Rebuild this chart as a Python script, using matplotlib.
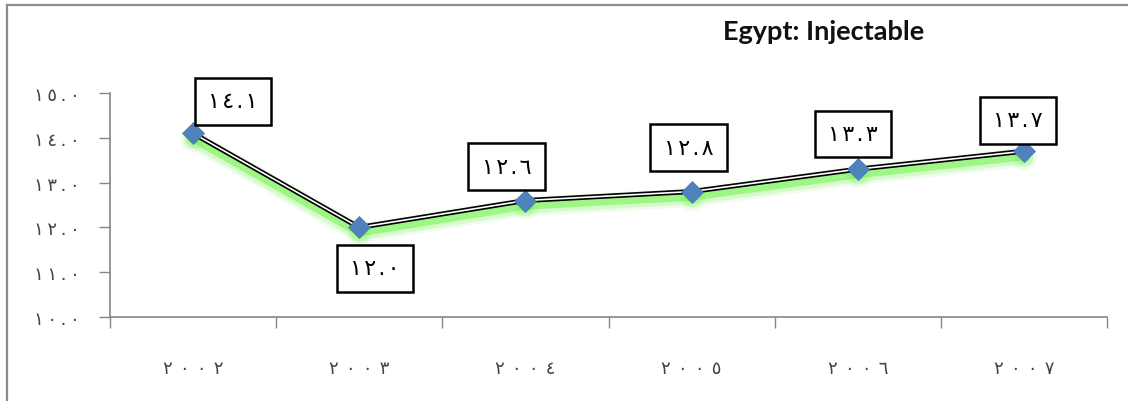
import matplotlib
matplotlib.use('Agg')
import matplotlib.pyplot as plt
import matplotlib.transforms as mtrans
from matplotlib.lines import Line2D

years = ['2002', '2003', '2004', '2005', '2006', '2007']
values = [14.1, 12.0, 12.6, 12.8, 13.3, 13.7]
yticks = [10, 11, 12, 13, 14, 15]
title = 'Egypt: Injectable'

# label box offsets (pixels) from each point
label_dx = [40, 16, -19, -3, -5, -6]
label_dy = [32, -41, 34, 44, 35, 31]

AR = str.maketrans('0123456789', '٠١٢٣٤٥٦٧٨٩')

def ar(s, gap='\u2009'):
    # arabic-indic digits, loosely spaced like the original
    return gap.join(s.translate(AR))

plt.rcParams['font.family'] = ['DejaVu Sans']

W, H = 1128, 402
fig = plt.figure(figsize=(W / 100, H / 100), dpi=100)
ax = fig.add_axes([110 / W, 1 - 318 / H, (1107 - 110) / W, (318 - 94) / H])

x = list(range(len(years)))
axis_col = '#868686'

# soft green glow under the line
for dy, lw, a in [(-6, 14, 0.08), (-6, 10, 0.16), (-5, 6, 0.4)]:
    tr = mtrans.offset_copy(ax.transData, fig=fig, x=0, y=dy, units='dots')
    ax.plot(x, values, color='#4cf01e', lw=lw, alpha=a, transform=tr,
            solid_capstyle='round', solid_joinstyle='round', zorder=2)
    ax.plot(x, values, ls='none', marker='o', ms=lw * 1.3, color='#4cf01e',
            alpha=a, transform=tr, mec='none', zorder=2)

# double line: black outline, white core
ax.plot(x, values, color='black', lw=3.6, solid_joinstyle='miter', zorder=3)
ax.plot(x, values, color='white', lw=1.2, solid_joinstyle='miter', zorder=4)
ax.plot(x, values, ls='none', marker='D', ms=11, color='#4f81bd',
        mec='#4a7ab5', mew=0.5, zorder=5)

for xi, v, dx, dy in zip(x, values, label_dx, label_dy):
    ax.annotate(ar(f'{v:.1f}', '\u200a'), (xi, v), xytext=(dx, dy), textcoords='offset pixels',
                ha='center', va='center', fontsize=16, color='black', zorder=6,
                bbox=dict(boxstyle='square,pad=0.6', fc='white', ec='black', lw=1.8))

ax.set_xlim(-0.5, len(years) - 0.5)
ax.set_ylim(10, 15)

ax.set_xticks(x)
ax.set_xticklabels([ar(y, '\u2009\u2009') for y in years], fontsize=13, color='#444444')
ax.set_xticks([i - 0.5 for i in range(len(years) + 1)], minor=True)
ax.tick_params(axis='x', which='major', length=0, pad=30)
ax.tick_params(axis='x', which='minor', length=8, width=1, color=axis_col, direction='out')

ax.set_yticks(yticks)
ax.set_yticklabels([ar(f'{t:.1f}') for t in yticks], fontsize=13, color='#444444')
ax.tick_params(axis='y', length=8, width=1, color=axis_col, direction='out', pad=14)

for s in ['top', 'right']:
    ax.spines[s].set_visible(False)
for s in ['left', 'bottom']:
    ax.spines[s].set_color(axis_col)
    ax.spines[s].set_linewidth(1.2)

fig.text(824 / W, 1 - 32 / H, title, ha='center', va='center', fontsize=19.5,
         fontweight='bold', family=['Lato', 'DejaVu Sans'], color='#111111')

# outer frame (top and left edges)
fig.add_artist(Line2D([7 / W, 1], [1 - 5.5 / H, 1 - 5.5 / H], transform=fig.transFigure,
                      color='#8c8c8c', lw=1.6))
fig.add_artist(Line2D([7 / W, 7 / W], [0, 1 - 5.5 / H], transform=fig.transFigure,
                      color='#8c8c8c', lw=1.6))

fig.savefig('out.png', dpi=100)
